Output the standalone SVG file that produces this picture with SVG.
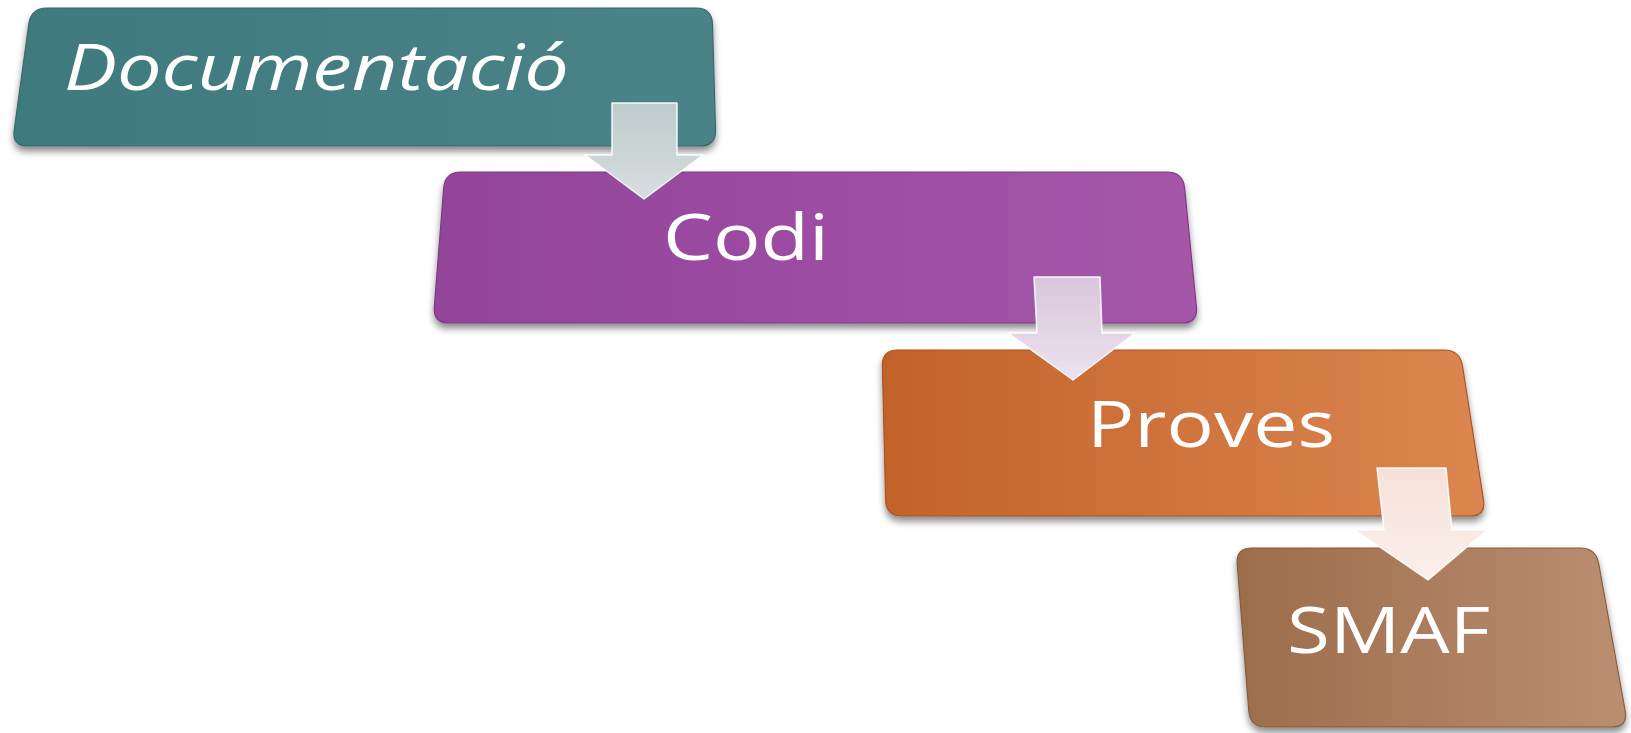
<svg xmlns="http://www.w3.org/2000/svg" width="1631" height="733" viewBox="0 0 1631 733">
  <defs>
    <filter id="shadow" x="-5%" y="-10%" width="110%" height="130%">
      <feDropShadow dx="0" dy="5" stdDeviation="3.5" flood-color="#000" flood-opacity="0.45"/>
    </filter>
    <linearGradient id="gTeal" x1="0" y1="0" x2="1" y2="0">
      <stop offset="0" stop-color="#3E7A7E"/>
      <stop offset="1" stop-color="#4A8388"/>
    </linearGradient>
    <linearGradient id="gPurple" x1="0" y1="0" x2="1" y2="0">
      <stop offset="0" stop-color="#93449A"/>
      <stop offset="1" stop-color="#A556A9"/>
    </linearGradient>
    <linearGradient id="gOrange" x1="0" y1="0" x2="1" y2="0">
      <stop offset="0" stop-color="#C2622B"/>
      <stop offset="1" stop-color="#DC8650"/>
    </linearGradient>
    <linearGradient id="gBrown" x1="0" y1="0" x2="1" y2="0">
      <stop offset="0" stop-color="#9D6D4B"/>
      <stop offset="1" stop-color="#BA8E70"/>
    </linearGradient>
    <linearGradient id="gA1" x1="0" y1="0" x2="0" y2="1">
      <stop offset="0" stop-color="#BFCBCC"/>
      <stop offset="1" stop-color="#D7DEDF"/>
    </linearGradient>
    <linearGradient id="gA2" x1="0" y1="0" x2="0" y2="1">
      <stop offset="0" stop-color="#D9C6DC"/>
      <stop offset="1" stop-color="#ECE2EE"/>
    </linearGradient>
    <linearGradient id="gA3" x1="0" y1="0" x2="0" y2="1">
      <stop offset="0" stop-color="#F6E1DA"/>
      <stop offset="1" stop-color="#FBEFEA"/>
    </linearGradient>
  </defs>
  <style>
    .box { filter: url(#shadow); stroke-width: 1.2; }
    .lbl { font-family: "Open Sans", "Noto Sans", sans-serif; fill: #FFFFFF; font-size: 64px; }
    .arrow { stroke: #FFFFFF; stroke-width: 1.5; stroke-linejoin: round; stroke-opacity: 0.9; }
  </style>
  <rect width="1631" height="733" fill="#FFFFFF"/>

  <g id="node-documentacio">
    <path class="box" fill="url(#gTeal)" stroke="#36696C" d="M 47,8 L 696,8 Q 712,8 712.5,24 L 715.5,130 Q 716,146 700,146 L 28,146 Q 12,146 14.2,130 L 28.8,24 Q 31,8 47,8 Z"/>
    <text class="lbl" x="64" y="90" font-style="italic" textLength="505" lengthAdjust="spacingAndGlyphs">Documentació</text>
  </g>

  <g id="node-codi">
    <path class="box" fill="url(#gPurple)" stroke="#7E3A84" d="M 461,172 L 1167,172 Q 1183,172 1184.6,188 L 1196.4,307 Q 1198,323 1182,323 L 449,323 Q 433,323 434.3,307 L 443.7,188 Q 445,172 461,172 Z"/>
    <text class="lbl" x="663" y="260" textLength="166" lengthAdjust="spacingAndGlyphs">Codi</text>
  </g>

  <g id="node-proves">
    <path class="box" fill="url(#gOrange)" stroke="#A85424" d="M 898,350 L 1444,350 Q 1460,350 1462.5,366 L 1483.5,500 Q 1486,516 1470,516 L 902,516 Q 886,516 885.6,500 L 882.4,366 Q 882,350 898,350 Z"/>
    <text class="lbl" x="1087" y="447" textLength="248" lengthAdjust="spacingAndGlyphs">Proves</text>
  </g>

  <g id="node-smaf">
    <path class="box" fill="url(#gBrown)" stroke="#875C3E" d="M 1252,548 L 1580,548 Q 1596,548 1598.8,564 L 1625.2,711 Q 1628,727 1612,727 L 1266,727 Q 1250,727 1248.8,711 L 1237.2,564 Q 1236,548 1252,548 Z"/>
    <text class="lbl" x="1287" y="653" font-size="68" textLength="203" lengthAdjust="spacingAndGlyphs">SMAF</text>
  </g>

  <g id="connectors">
    <path class="arrow" fill="url(#gA1)" d="M 612,103 L 677,103 L 677,155 L 703,155 L 644,199 L 585,155 L 612,155 Z"/>
    <path class="arrow" fill="url(#gA2)" d="M 1034,277 L 1100,277 L 1102,333 L 1135,333 L 1073,380 L 1008,333 L 1037,333 Z"/>
    <path class="arrow" fill="url(#gA3)" d="M 1377,468 L 1446,468 L 1452,530 L 1487,530 L 1428,580 L 1355,530 L 1384,530 Z"/>
  </g>
</svg>
